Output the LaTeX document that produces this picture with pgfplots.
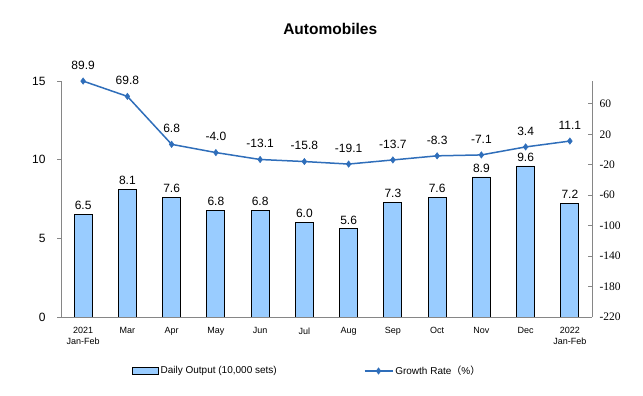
\documentclass[border=0pt]{standalone}
\usepackage{fontspec}
\setmainfont{Liberation Sans}
\newfontfamily\seriffont{Liberation Serif}
\newfontfamily\cjk{Noto Sans CJK SC}
\usepackage{pgfplots}
\pgfplotsset{compat=1.18}
\pgfkeys{/pgf/number format/assume math mode=true}
\definecolor{barblue}{RGB}{153,204,255}
\definecolor{lineblue}{RGB}{47,110,186}
\definecolor{axgray}{RGB}{134,134,134}
\pgfplotsset{
  barlegend/.style={legend image code/.code={\draw[##1] (0pt,-3.5pt) rectangle (26pt,3.5pt);}},
  linelegend/.style={legend image code/.code={\draw[##1, mark repeat=2, mark phase=2] plot coordinates {(0pt,0pt) (14pt,0pt) (28pt,0pt)};}},
}

\begin{document}
\begin{tikzpicture}
\useasboundingbox (-61pt,-79pt) rectangle (582pt,317pt);
\begin{axis}[
  scale only axis, width=531pt, height=236pt,
  xmin=-0.5, xmax=11.5, ymin=0, ymax=15,
  axis x line*=bottom, axis y line*=left,
  axis line style={axgray, line width=0.8pt},
  xtick={0,...,11},
  xticklabels={{2021\\Jan-Feb},Mar,Apr,May,Jun,Jul,Aug,Sep,Oct,Nov,Dec,{2022\\Jan-Feb}},
  xticklabel style={align=center, font=\fontsize{9}{11}\selectfont, yshift=-3pt},
  x tick style={draw=none},
  ytick={0,5,10,15},
  tick align=outside,
  major tick length=4pt,
  y tick style={axgray, line width=0.8pt},
  yticklabel style={font=\fontsize{12}{14}\selectfont, xshift=-8pt},
  clip=false,
]
\addplot[ybar, bar width=18pt, fill=barblue, draw=black, line width=0.8pt,
  nodes near coords={\pgfmathprintnumber[fixed,fixed zerofill,precision=1]{\pgfplotspointmeta}},
  nodes near coords style={font=\fontsize{12}{14}\selectfont, black, yshift=1pt}]
coordinates {(0,6.5) (1,8.1) (2,7.6) (3,6.8) (4,6.8) (5,6.0) (6,5.6) (7,7.3) (8,7.6) (9,8.9) (10,9.6) (11,7.2)};
\end{axis}

\begin{axis}[
  scale only axis, width=531pt, height=236pt,
  xmin=-0.5, xmax=11.5, ymin=-220, ymax=90,
  axis x line*=bottom, axis y line*=right,
  axis line style={axgray, line width=0.8pt},
  xtick=\empty,
  minor xtick={0.5,1.5,...,10.5},
  tick align=inside,
  major tick length=4pt, minor tick length=4pt,
  tick style={axgray, line width=0.8pt},
  ytick={-220,-180,...,60},
  yticklabel style={font=\seriffont\fontsize{11.5}{13}\selectfont, xshift=4pt},
  clip=false,
  title={Automobiles},
  title style={font=\bfseries\fontsize{15.5}{18}\selectfont, at={(0.507,1)}, anchor=center, yshift=46.5pt},
  legend columns=2,
  legend style={draw=none, fill=none, at={(0.133,0)}, anchor=west, yshift=-54pt,
    inner sep=0pt, font=\fontsize{10}{12}\selectfont,
    /tikz/column 2/.style={column sep=85pt}},
]
\addlegendimage{black, line width=0.8pt, fill=barblue, barlegend}
\addlegendentry{Daily Output (10,000 sets)}
\addplot[lineblue, line width=1.5pt, mark=diamond*, mark size=3.2pt,
  mark options={fill=lineblue, line width=0.5pt},
  nodes near coords={\pgfmathprintnumber[fixed,fixed zerofill,precision=1]{\pgfplotspointmeta}},
  nodes near coords align={anchor=south},
  nodes near coords style={font=\fontsize{12}{14}\selectfont, black, yshift=8pt},
  linelegend]
coordinates {(0,89.9) (1,69.8) (2,6.8) (3,-4.0) (4,-13.1) (5,-15.8) (6,-19.1) (7,-13.7) (8,-8.3) (9,-7.1) (10,3.4) (11,11.1)};
\addlegendentry{Growth Rate{\cjk（}\%{\cjk）}}
\end{axis}
\end{tikzpicture}
\end{document}
